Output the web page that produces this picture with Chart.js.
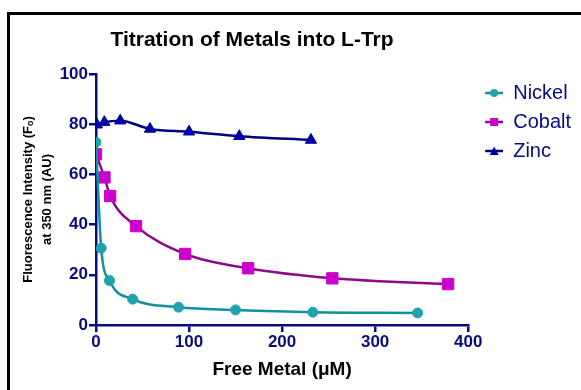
<!DOCTYPE html>
<html>
<head>
<meta charset="utf-8">
<script src="https://cdn.jsdelivr.net/npm/chart.js@4"></script>
<style>
  html, body { margin:0; padding:0; background:#fff; }
  #wrap { position:relative; width:581px; height:390px; }
  #frame { position:absolute; left:7px; top:12px; right:0; bottom:0; border-top:3px solid #000; border-left:3px solid #000; }
  #wrap canvas { position:relative; }
</style>
</head>
<body>
<div id="wrap">
  <div id="frame"></div>
  <canvas id="chart"></canvas>
</div>
<script>
// Data
const chartTitle = "Titration of Metals into L-Trp";
const seriesNames = ["Nickel", "Cobalt", "Zinc"];

const nickelX = [0, 5.6, 14.5, 39.4, 88.7, 150, 233, 345.6];
const nickelY = [72.8, 30.6, 17.7, 10.3, 7.1, 6.0, 5.1, 4.8];

const cobaltX = [0, 9.1, 15.2, 43, 95.8, 163.6, 254, 378.5];
const cobaltY = [68.0, 58.8, 51.4, 39.4, 28.3, 22.6, 18.6, 16.3];

const zincX = [1, 9, 26, 58, 100, 154, 231];
const zincY = [79.8, 80.8, 81.4, 78.1, 77.0, 75.2, 73.7];

const xTicks = [0, 100, 200, 300, 400];
const yTicks = [0, 20, 40, 60, 80, 100];

const navy = '#0a0a80';
const font = 'Arial, "Liberation Sans", sans-serif';

function pts(xs, ys){ return xs.map((x,i)=>({x:x, y:ys[i]})); }

// little "line + marker" icons for the legend
function legendIcon(lineColor, fillColor, shape){
    const c = document.createElement('canvas');
    c.width = 26; c.height = 12;
    const g = c.getContext('2d');
    g.strokeStyle = lineColor; g.lineWidth = 2.5;
    g.beginPath(); g.moveTo(8,6); g.lineTo(26,6); g.stroke();
    g.fillStyle = fillColor;
    g.beginPath();
    if(shape==='circle') g.arc(17,6,4,0,Math.PI*2);
    else if(shape==='rect') g.rect(13,2,8,8);
    else { g.moveTo(17,1.5); g.lineTo(21.5,10); g.lineTo(12.5,10); g.closePath(); }
    g.fill();
    return c;
}

const styles = [
    {line:'#12909c', fill:'#1fa3ac', shape:'circle', r:5},
    {line:'#8a0a8a', fill:'#cc00cc', shape:'rect', r:8},
    {line:'#000080', fill:'#0000a8', shape:'triangle', r:6.5}
];
const icons = styles.map(s=>legendIcon(s.line, s.fill, s.shape));

const seriesData = [pts(nickelX,nickelY), pts(cobaltX,cobaltY), pts(zincX,zincY)];

const datasets = seriesNames.map((name,i)=>({
    label: name,
    data: seriesData[i],
    showLine: true,
    cubicInterpolationMode: 'monotone',
    borderColor: styles[i].line,
    borderWidth: 2.5,
    pointStyle: styles[i].shape,
    pointRadius: styles[i].r,
    pointBackgroundColor: styles[i].fill,
    pointBorderColor: styles[i].fill,
    pointBorderWidth: 1
}));

// title drawn over the left part, like the original
const titlePlugin = {
    id: 'plotTitle',
    afterDraw(chart){
        const ctx = chart.ctx;
        ctx.save();
        ctx.font = 'bold 21px ' + font;
        ctx.fillStyle = '#000';
        ctx.textAlign = 'center';
        ctx.textBaseline = 'alphabetic';
        ctx.fillText(chartTitle, 252, 45.5);
        ctx.restore();
    }
};

const axisGrid = { display:true, drawOnChartArea:false, drawTicks:true, tickLength:7, color:navy, lineWidth:2.5 };
const axisBorder = { display:true, color:navy, width:2.5 };

new Chart(document.getElementById('chart'), {
    type: 'scatter',
    data: { datasets: datasets },
    plugins: [titlePlugin],
    options: {
        responsive: true,
        maintainAspectRatio: false,
        animation: false,
        layout: { padding: { left:10, top:74, right:0, bottom:0 } },
        plugins: {
            tooltip: { enabled:false },
            legend: {
                position: 'right',
                align: 'start',
                labels: {
                    usePointStyle: true,
                    pointStyleWidth: 26,
                    boxHeight: 12,
                    padding: 9,
                    color: navy,
                    font: { family: font, size: 20 },
                    generateLabels(chart){
                        const items = Chart.defaults.plugins.legend.labels.generateLabels(chart);
                        items.forEach((it,i)=>{ it.pointStyle = icons[i]; });
                        return items;
                    }
                }
            }
        },
        scales: {
            x: {
                type: 'linear', min: 0, max: 400,
                afterBuildTicks(s){ s.ticks = xTicks.map(v=>({value:v})); },
                grid: axisGrid, border: axisBorder,
                ticks: { color:navy, padding:0, font:{ family:font, size:17, weight:'bold' } },
                title: { display:true, text:'Free Metal (\u03bcM)', color:'#000', padding:{top:4, bottom:9},
                         font:{ family:font, size:19, weight:'bold' } },
                afterFit(s){ s.height = 65; }
            },
            y: {
                type: 'linear', min: 0, max: 100,
                afterBuildTicks(s){ s.ticks = yTicks.map(v=>({value:v})); },
                grid: axisGrid, border: axisBorder,
                ticks: { color:navy, padding:1, font:{ family:font, size:17, weight:'bold' } },
                title: { display:true, text:['Fluorescence Intensity (F\u2092)', 'at 350 nm (AU)'], color:'#000',
                         padding:{top:9, bottom:4}, font:{ family:font, size:13, weight:'bold', lineHeight:1.45 } },
                afterFit(s){ s.width = 86; }
            }
        }
    }
});
</script>
</body>
</html>
